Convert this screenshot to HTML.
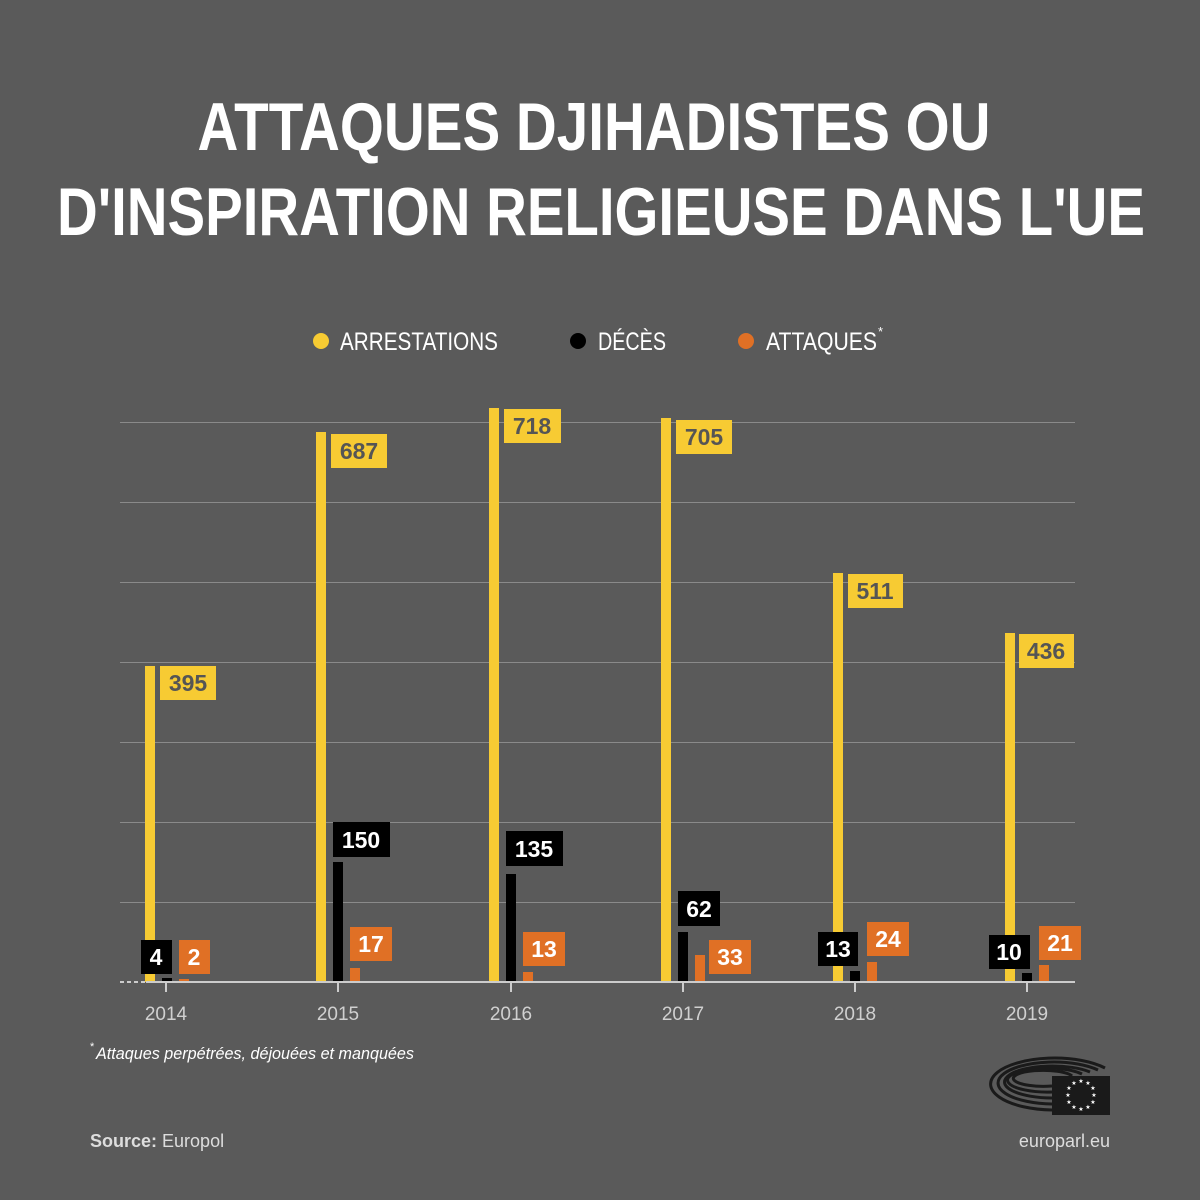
<!DOCTYPE html>
<html><head><meta charset="utf-8"><style>
html,body{margin:0;padding:0;background:#5a5a5a;}
svg{display:block}
</style></head><body>
<svg width="1200" height="1200" viewBox="0 0 1200 1200" xmlns="http://www.w3.org/2000/svg" font-family="'Liberation Sans', sans-serif">
<rect width="1200" height="1200" fill="#5a5a5a"/>
<text x="594" y="150" text-anchor="middle" font-size="68" font-weight="bold" fill="#fff" textLength="793" lengthAdjust="spacingAndGlyphs">ATTAQUES DJIHADISTES OU</text>
<text x="601" y="235" text-anchor="middle" font-size="68" font-weight="bold" fill="#fff" textLength="1088" lengthAdjust="spacingAndGlyphs">D'INSPIRATION RELIGIEUSE DANS L'UE</text>
<!-- legend -->
<circle cx="321" cy="341" r="8" fill="#f7cb33"/>
<text x="340" y="350" font-size="25" fill="#fff" textLength="158" lengthAdjust="spacingAndGlyphs">ARRESTATIONS</text>
<circle cx="578" cy="341" r="8" fill="#000"/>
<text x="598" y="350" font-size="25" fill="#fff" textLength="68" lengthAdjust="spacingAndGlyphs">DÉCÈS</text>
<circle cx="746" cy="341" r="8" fill="#e07025"/>
<text x="766" y="350" font-size="25" fill="#fff" textLength="111" lengthAdjust="spacingAndGlyphs">ATTAQUES</text>
<text x="878" y="336" font-size="13" fill="#fff">*</text>
<!-- grid -->
<g stroke="#8a8a8a" stroke-width="1">
<line x1="120" y1="422.5" x2="1075" y2="422.5"/>
<line x1="120" y1="502.5" x2="1075" y2="502.5"/>
<line x1="120" y1="582.5" x2="1075" y2="582.5"/>
<line x1="120" y1="662.5" x2="1075" y2="662.5"/>
<line x1="120" y1="742.5" x2="1075" y2="742.5"/>
<line x1="120" y1="822.5" x2="1075" y2="822.5"/>
<line x1="120" y1="902.5" x2="1075" y2="902.5"/>
</g>
<!-- bars -->
<g fill="#f7cb33">
<rect x="145" y="666" width="10" height="316"/>
<rect x="316" y="432" width="10" height="550"/>
<rect x="489" y="408" width="10" height="574"/>
<rect x="661" y="418" width="10" height="564"/>
<rect x="833" y="573" width="10" height="409"/>
<rect x="1005" y="633" width="10" height="349"/>
</g>
<g fill="#000">
<rect x="162" y="978" width="10" height="4"/>
<rect x="333" y="862" width="10" height="120"/>
<rect x="506" y="874" width="10" height="108"/>
<rect x="678" y="932" width="10" height="50"/>
<rect x="850" y="971" width="10" height="11"/>
<rect x="1022" y="973" width="10" height="9"/>
</g>
<g fill="#e07025">
<rect x="179" y="979" width="10" height="3"/>
<rect x="350" y="968" width="10" height="14"/>
<rect x="523" y="972" width="10" height="10"/>
<rect x="695" y="955" width="10" height="27"/>
<rect x="867" y="962" width="10" height="20"/>
<rect x="1039" y="965" width="10" height="17"/>
</g>
<!-- baseline -->
<line x1="120" y1="982" x2="146" y2="982" stroke="#ccc" stroke-width="2" stroke-dasharray="4,3"/>
<line x1="146" y1="982" x2="1075" y2="982" stroke="#ccc" stroke-width="2"/>
<g stroke="#ccc" stroke-width="2">
<line x1="166" y1="982" x2="166" y2="992"/><line x1="338" y1="982" x2="338" y2="992"/>
<line x1="511" y1="982" x2="511" y2="992"/><line x1="683" y1="982" x2="683" y2="992"/>
<line x1="855" y1="982" x2="855" y2="992"/><line x1="1027" y1="982" x2="1027" y2="992"/>
</g>
<g font-size="19" fill="#d0d0d0" text-anchor="middle">
<text x="166" y="1020">2014</text><text x="338" y="1020">2015</text><text x="511" y="1020">2016</text>
<text x="683" y="1020">2017</text><text x="855" y="1020">2018</text><text x="1027" y="1020">2019</text>
</g>
<!-- labels -->
<g font-size="23" font-weight="bold" text-anchor="middle">
<rect x="160" y="666" width="56" height="34" fill="#f7cb33"/><text x="188" y="691" fill="#555">395</text>
<rect x="331" y="434" width="56" height="34" fill="#f7cb33"/><text x="359" y="459" fill="#555">687</text>
<rect x="504" y="409" width="57" height="34" fill="#f7cb33"/><text x="532" y="434" fill="#555">718</text>
<rect x="676" y="420" width="56" height="34" fill="#f7cb33"/><text x="704" y="445" fill="#555">705</text>
<rect x="848" y="574" width="55" height="34" fill="#f7cb33"/><text x="875" y="599" fill="#555">511</text>
<rect x="1019" y="634" width="55" height="34" fill="#f7cb33"/><text x="1046" y="659" fill="#555">436</text>

<rect x="141" y="940" width="31" height="34" fill="#000"/><text x="156" y="965" fill="#fff">4</text>
<rect x="333" y="822" width="57" height="35" fill="#000"/><text x="361" y="848" fill="#fff">150</text>
<rect x="506" y="831" width="57" height="35" fill="#000"/><text x="534" y="857" fill="#fff">135</text>
<rect x="678" y="891" width="42" height="35" fill="#000"/><text x="699" y="917" fill="#fff">62</text>
<rect x="818" y="932" width="40" height="34" fill="#000"/><text x="838" y="957" fill="#fff">13</text>
<rect x="989" y="935" width="41" height="34" fill="#000"/><text x="1009" y="960" fill="#fff">10</text>

<rect x="179" y="940" width="31" height="34" fill="#e07025"/><text x="194" y="965" fill="#fff">2</text>
<rect x="350" y="927" width="42" height="34" fill="#e07025"/><text x="371" y="952" fill="#fff">17</text>
<rect x="523" y="932" width="42" height="34" fill="#e07025"/><text x="544" y="957" fill="#fff">13</text>
<rect x="709" y="940" width="42" height="34" fill="#e07025"/><text x="730" y="965" fill="#fff">33</text>
<rect x="867" y="922" width="42" height="34" fill="#e07025"/><text x="888" y="947" fill="#fff">24</text>
<rect x="1039" y="926" width="42" height="34" fill="#e07025"/><text x="1060" y="951" fill="#fff">21</text>
</g>
<!-- footnote -->
<text x="90" y="1050" font-size="11" fill="#fff">*</text>
<text x="96" y="1059" font-size="17" font-style="italic" fill="#fff" textLength="318" lengthAdjust="spacingAndGlyphs">Attaques perpétrées, déjouées et manquées</text>
<text x="90" y="1147" font-size="18" fill="#ddd"><tspan font-weight="bold">Source:</tspan> Europol</text>
<text x="1110" y="1147" font-size="18" fill="#ddd" text-anchor="end">europarl.eu</text>
<!-- logo -->
<g fill="none" stroke="#1a1a1a" stroke-width="3">
<path d="M1052 1110 A64 26 0 1 1 1105 1068"/>
<path d="M1052 1104 A56 21 0 1 1 1098 1070"/>
<path d="M1052 1098 A48 16 0 1 1 1090 1072"/>
<path d="M1052 1092 A40 12 0 1 1 1082 1074"/>
<path d="M1052 1086 A30 8 0 1 1 1072 1076"/>
</g>
<rect x="1052" y="1076" width="58" height="39" fill="#1a1a1a"/>
<g fill="#fff" font-size="6" text-anchor="middle">
<text x="1081" y="1083">★</text><text x="1088" y="1085">★</text><text x="1093" y="1090">★</text>
<text x="1094" y="1097">★</text><text x="1093" y="1104">★</text><text x="1088" y="1109">★</text>
<text x="1081" y="1111">★</text><text x="1074" y="1109">★</text><text x="1069" y="1104">★</text>
<text x="1068" y="1097">★</text><text x="1069" y="1090">★</text><text x="1074" y="1085">★</text>
</g>
</svg>
</body></html>
